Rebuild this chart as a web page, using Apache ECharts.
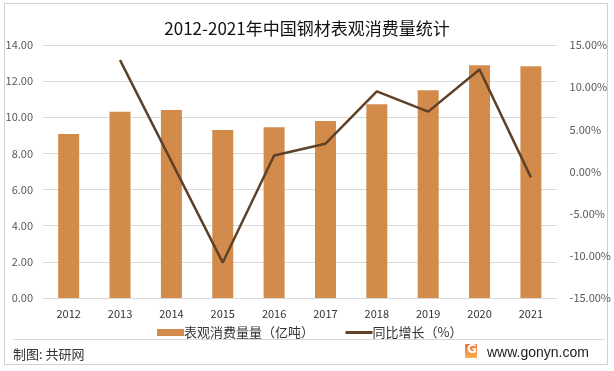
<!DOCTYPE html>
<html>
<head>
<meta charset="utf-8">
<script src="https://cdn.jsdelivr.net/npm/echarts@6/dist/echarts.min.js"></script>
<style>html,body{margin:0;padding:0;background:#fff;}#c{width:614px;height:371px;}</style>
</head>
<body>
<div id="c"></div>
<script>
var categories = ['2012','2013','2014','2015','2016','2017','2018','2019','2020','2021'];
var consumption = [9.08, 10.30, 10.40, 9.30, 9.45, 9.80, 10.72, 11.50, 12.88, 12.83];
var growth = [null, 13.2, 1.2, -10.8, 1.9, 3.3, 9.5, 7.1, 12.1, -0.7];
var leftTicks = {min: 0, max: 14, interval: 2};
var rightTicks = {min: -15, max: 15, interval: 5};

var chart = echarts.init(document.getElementById('c'));
var font = '"Noto Sans CJK SC", "Noto Sans", sans-serif';
chart.setOption({
  animation: false,
  textStyle: {fontFamily: font},
  title: {
    text: '2012-2021年中国钢材表观消费量统计',
    left: 'center', top: 15,
    textStyle: {fontSize: 17, fontWeight: 'normal', color: '#111', fontFamily: font}
  },
  grid: {left: 43, right: 57, top: 45, bottom: 73},
  legend: {
    left: 152, top: 321,
    itemWidth: 27, itemHeight: 7, itemGap: 30,
    textStyle: {fontSize: 13, color: '#333', padding: [0,0,0,-5]},
    data: [
      {name: '表观消费量量（亿吨）', icon: 'rect'},
      {name: '同比增长（%）', itemStyle: {opacity: 0}, lineStyle: {width: 3}}
    ]
  },
  xAxis: {
    type: 'category', data: categories,
    axisLine: {lineStyle: {color: '#d9d9d9'}},
    axisTick: {show: false},
    axisLabel: {color: '#333', fontSize: 11, margin: 10}
  },
  yAxis: [
    {
      type: 'value', min: leftTicks.min, max: leftTicks.max, interval: leftTicks.interval,
      axisLine: {show: false}, axisTick: {show: false},
      splitLine: {lineStyle: {color: '#d9d9d9'}},
      axisLabel: {color: '#595959', fontSize: 11, margin: 10, formatter: function(v){return v.toFixed(2);}}
    },
    {
      type: 'value', min: rightTicks.min, max: rightTicks.max, interval: rightTicks.interval,
      axisLine: {show: false}, axisTick: {show: false},
      splitLine: {show: false},
      axisLabel: {color: '#595959', fontSize: 11, margin: 13, formatter: function(v){return v.toFixed(2) + '%';}}
    }
  ],
  series: [
    {
      name: '表观消费量量（亿吨）', type: 'bar', data: consumption,
      barWidth: 21, itemStyle: {color: '#D38B4C'}
    },
    {
      name: '同比增长（%）', type: 'line', yAxisIndex: 1, data: growth,
      symbol: 'none', lineStyle: {color: '#5E4127', width: 2.5}, itemStyle: {color: '#5E4127'}
    }
  ],
  graphic: [
    {type: 'rect', shape: {x: 4.5, y: 3.5, width: 603, height: 361}, style: {fill: 'none', stroke: '#d0d0d0', lineWidth: 1}, silent: true},
    {type: 'line', shape: {x1: 13, y1: 339.5, x2: 605, y2: 339.5}, style: {stroke: '#d9d9d9', lineWidth: 1}},
    {type: 'text', left: 13, top: 348, style: {text: '制图: 共研网', fontSize: 13, fill: '#333', fontFamily: font}},
    {type: 'rect', shape: {x: 465, y: 344, width: 12, height: 14, r: 1},
      style: {fill: {type: 'linear', x: 0, y: 0, x2: 0, y2: 1, colorStops: [{offset: 0, color: '#F26B3A'}, {offset: 1, color: '#F9B24A'}]}}},
    {type: 'text', left: 467, top: 344, style: {text: 'G', fontSize: 12, fontWeight: 'bold', fill: '#fff', fontFamily: 'DejaVu Sans'}},
    {type: 'text', left: 487, top: 346, style: {text: 'www.gonyn.com', fontSize: 14, fill: '#222', fontFamily: '"Liberation Sans", Arial, sans-serif'}}
  ]
});
</script>
</body>
</html>
